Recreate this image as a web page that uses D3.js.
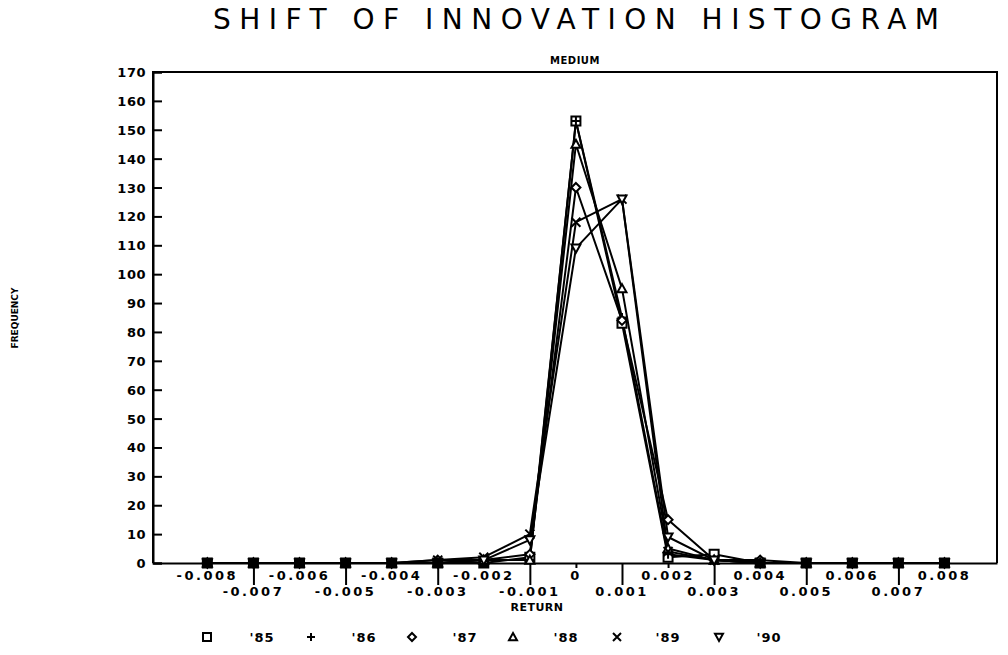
<!DOCTYPE html>
<html>
<head>
<meta charset="utf-8">
<script src="https://cdn.jsdelivr.net/npm/d3@7"></script>
<style>
  html, body { margin: 0; padding: 0; background: #fff; }
  svg { display: block; }
  text { font-family: "DejaVu Sans", sans-serif; fill: #000; }
</style>
</head>
<body>
<svg id="chart" width="1008" height="655"></svg>
<script>
// ---- data ----
const returns = [-0.008,-0.007,-0.006,-0.005,-0.004,-0.003,-0.002,-0.001,0,0.001,0.002,0.003,0.004,0.005,0.006,0.007,0.008];
const returnLabels = ["-0.008","-0.007","-0.006","-0.005","-0.004","-0.003","-0.002","-0.001","0","0.001","0.002","0.003","0.004","0.005","0.006","0.007","0.008"];
const seriesNames = ["'85","'86","'87","'88","'89","'90"];
const markerKinds = ["square","plus","diamond","triangle","cross","invtriangle"];
const y85 = [0,0,0,0,0,0,0,2,153,83,2,3,0,0,0,0,0];
const y86 = [0,0,0,0,0,0,1,1,153,85,3,1,0,0,0,0,0];
const y87 = [0,0,0,0,0,1,1,3,130,84,15,1,1,0,0,0,0];
const y88 = [0,0,0,0,0,0,1,1,145,95,5,1,0,0,0,0,0];
const y89 = [0,0,0,0,0,1,2,10,118,126,4,1,0,0,0,0,0];
const y90 = [0,0,0,0,0,0,1,8,109,126,9,1,0,0,0,0,0];
const seriesValues = [y85,y86,y87,y88,y89,y90];
const yTicks = d3.range(0, 171, 10);

(function () {
// ---- layout ----
const svg = d3.select("#chart");
const pLeft = 153, pRight = 997, pTop = 72, pBottom = 563;
const x = d3.scaleLinear().domain([-0.00918, 0.00914]).range([pLeft, pRight]);
const y = d3.scaleLinear().domain([0, 170]).range([pBottom, pTop]);

function markerPath(kind, s) {
  switch (kind) {
    case "square": return `M${-s},${-s}H${s}V${s}H${-s}Z`;
    case "plus": return `M${-s},0H${s}M0,${-s}V${s}`;
    case "diamond": return `M0,${-s}L${s},0L0,${s}L${-s},0Z`;
    case "triangle": return `M0,${-s}L${s},${s*0.8}L${-s},${s*0.8}Z`;
    case "cross": return `M${-s},${-s}L${s},${s}M${-s},${s}L${s},${-s}`;
    case "invtriangle": return `M0,${s}L${s},${-s*0.8}L${-s},${-s*0.8}Z`;
  }
}

// title
svg.append("text").attr("x", 576).attr("y", 29).attr("text-anchor", "middle")
  .attr("font-size", 28).attr("textLength", 726).attr("lengthAdjust", "spacing")
  .text("SHIFT OF INNOVATION HISTOGRAM");
svg.append("text").attr("x", 575).attr("y", 64).attr("text-anchor", "middle")
  .attr("font-size", 10).attr("font-weight", "bold").attr("letter-spacing", 0.5)
  .text("MEDIUM");

// frame
svg.append("path").attr("fill", "none").attr("stroke", "#000").attr("stroke-width", 2)
  .attr("d", `M${pLeft},${pBottom}V${pTop}H${pRight}V${pBottom}`);

// y axis
const yAxis = d3.axisRight(y).tickValues(yTicks).tickSize(9).tickFormat("");
const yg = svg.append("g").attr("transform", `translate(${pLeft},0)`).call(yAxis);
yg.select(".domain").attr("stroke-width", 2);
yg.selectAll(".tick line").attr("stroke-width", 2);
svg.append("g").selectAll("text").data(yTicks).join("text")
  .attr("x", 146).attr("y", d => y(d) + 5)
  .attr("text-anchor", "end").attr("font-size", 13).attr("font-weight", "bold")
  .attr("letter-spacing", 0.5)
  .text(d => d);

// x axis
const xAxis = d3.axisBottom(x).tickValues(returns).tickFormat("")
  .tickSizeOuter(0)
  .tickSize(0);
const xg = svg.append("g").attr("transform", `translate(0,${pBottom})`).call(xAxis);
xg.select(".domain").attr("stroke-width", 2);
xg.selectAll(".tick line")
  .attr("stroke-width", 2)
  .attr("y2", (d, i) => (i % 2 === 1 ? 22 : 5));
svg.append("g").selectAll("text").data(returns).join("text")
  .attr("x", d => x(d))
  .attr("y", (d, i) => (i % 2 === 0 ? 580 : 596))
  .attr("text-anchor", "middle").attr("font-size", 13).attr("font-weight", "bold")
  .attr("letter-spacing", 2.5)
  .text((d, i) => returnLabels[i]);
svg.append("text").attr("x", 537).attr("y", 611).attr("text-anchor", "middle")
  .attr("font-size", 11).attr("font-weight", "bold").attr("letter-spacing", 0.5)
  .text("RETURN");

// y title
svg.append("text").attr("transform", "translate(18,318) rotate(-90)")
  .attr("text-anchor", "middle").attr("font-size", 9).attr("font-weight", "bold")
  .text("FREQUENCY");

// series
const line = d3.line().x((d, i) => x(returns[i])).y(d => y(d));
seriesValues.forEach((vals) => {
  svg.append("path").datum(vals).attr("fill", "none").attr("stroke", "#000")
    .attr("stroke-width", 2).attr("stroke-linejoin", "round").attr("d", line);
});
seriesValues.forEach((vals, si) => {
  svg.append("g").selectAll("path").data(vals).join("path")
    .attr("transform", (d, i) => `translate(${x(returns[i])},${y(d)})`)
    .attr("d", markerPath(markerKinds[si], 4.5))
    .attr("fill", d => d === 0 ? "#000" : "#fff")
    .attr("stroke", "#000").attr("stroke-width", 2);
});

// legend
const legMarkX = [207, 311, 412, 513, 617, 719];
const legTextX = [262, 364, 465, 566, 668, 769];
const leg = svg.append("g");
seriesNames.forEach((name, i) => {
  leg.append("path").attr("transform", `translate(${legMarkX[i]},637)`)
    .attr("d", markerPath(markerKinds[i], 4)).attr("fill", "none")
    .attr("stroke", "#000").attr("stroke-width", 2);
  leg.append("text").attr("x", legTextX[i]).attr("y", 642).attr("text-anchor", "middle")
    .attr("font-size", 13).attr("font-weight", "bold").attr("letter-spacing", 1)
    .text(name);
});
})();
</script>
</body>
</html>
